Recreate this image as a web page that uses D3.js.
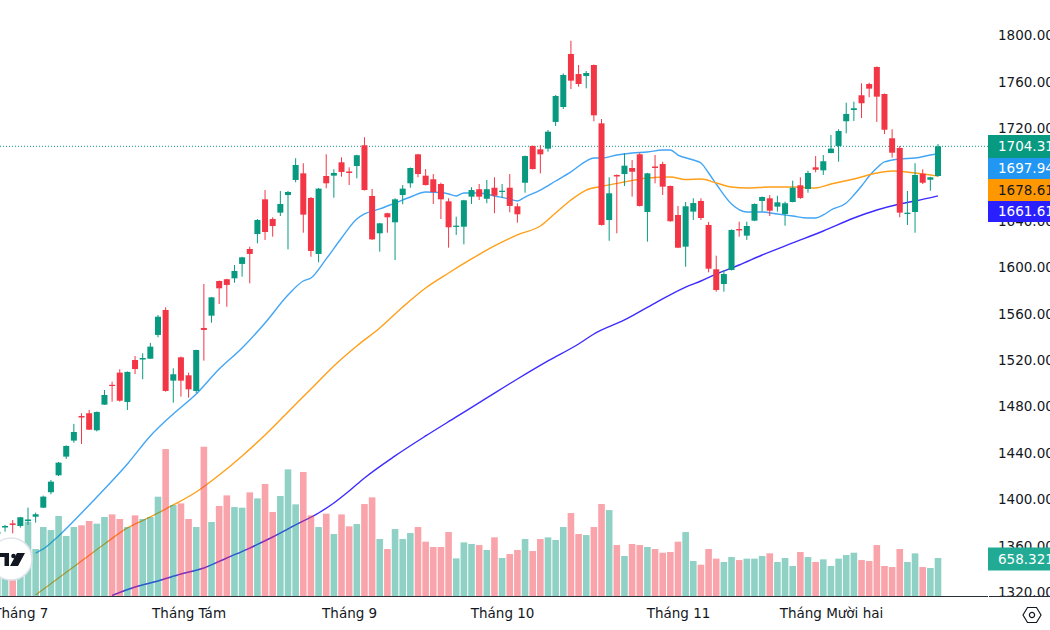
<!DOCTYPE html>
<html>
<head>
<meta charset="utf-8">
<script src="https://cdn.jsdelivr.net/npm/d3@7"></script>
<style>
  html, body { margin: 0; padding: 0; background: #fff; overflow: hidden; }
  text { font-family: "DejaVu Sans", sans-serif; }
</style>
</head>
<body>
<svg width="1050" height="630"></svg>
<script>
// daily candles, oldest first
var opens = [1370.1,1375.7,1379.2,1377,1381.3,1385,1392.8,1406.1,1420.7,1436.8,1450.6,1471.8,1474.2,1459.5,1481.6,1498.7,1509.2,1483.9,1520.1,1520.5,
  1521.2,1541.7,1563.2,1502.3,1522.4,1506.9,1493.4,1547.7,1558.3,1588.2,1589.7,1590.5,1602.9,1615.8,1628.7,1658.6,1641.6,1647.1,1662.3,1675.3,
  1681,1659.8,1611.5,1678.7,1679,1690.5,1682.6,1687.3,1705.2,1661.5,1629.3,1646.6,1638.8,1662.3,1672.4,1697.4,1679,1675.9,1671.8,1656.9,
  1634.8,1635,1660.9,1667.3,1659.1,1668.6,1665,1668.6,1652.6,1672.9,1704.6,1701.7,1702.3,1725.3,1738.2,1783.9,1766.6,1764.9,1774.4,1724.1,
  1640.8,1679.6,1680.4,1685.6,1697.4,1647.7,1686.9,1689.1,1670.1,1645.1,1617.8,1648,1657.2,1636.5,1598.3,1585.6,1597.7,1633,1627.3,1640.2,
  1657.2,1659.5,1652.3,1645.9,1656.3,1670.7,1667.5,1686.2,1683.6,1698.5,1704.6,1725.9,1735.6,1748.3,1758,1772.7,1749.4,1711.2,1702.9,1646,
  1647.7,1680.7,1675.5,1678.7];
var highs = [1372.7,1377.9,1382.2,1384.8,1392.8,1388.5,1403.2,1416.7,1432.2,1446.4,1465,1474.2,1477,1475.7,1494.2,1501.4,1512.1,1510.2,1523.5,1525.9,
  1534.8,1558.9,1565.5,1512.9,1523.1,1509.2,1528.9,1585.6,1574.4,1588.6,1590.1,1602,1609,1617.8,1641.6,1666.6,1643.1,1665.8,1665.8,1694,
  1689.7,1660.6,1668.4,1697.4,1684.5,1694.8,1686.2,1697,1712.1,1667.5,1638.3,1647,1659.5,1670.9,1686,1697.8,1684.7,1680.4,1672.9,1659.5,
  1643.6,1658.2,1669,1671.8,1675.3,1677.6,1671.8,1680.4,1655.2,1696.3,1705,1705.4,1718.4,1748.5,1767.2,1795.3,1774.4,1769.2,1774.8,1727.8,
  1677.6,1680,1698.3,1692.5,1698.8,1681.4,1696.8,1691,1670.5,1652.9,1656.3,1659.5,1659.5,1639.1,1610,1597.7,1632.6,1639.3,1639.3,1655,
  1661,1662.3,1661.7,1656.6,1674.7,1677.6,1683.3,1695.9,1696.8,1714.1,1719,1741.9,1742.8,1758.6,1759.1,1773.1,1749.8,1719,1704.6,1665.8,
  1689.7,1684.5,1678,1706.3];
var lows = [1369.3,1372.1,1370.7,1375.6,1377.9,1379.9,1392.5,1404.3,1420.1,1434.8,1448.8,1447.7,1459.8,1458.5,1481.3,1484.2,1484.2,1477,1508,1503.5,
  1520.9,1539.7,1492.8,1483.3,1488.5,1487.6,1491.7,1519.5,1552.3,1568.4,1566,1586.7,1591.9,1586.2,1620.7,1623.6,1626.4,1644.2,1615.5,1673.3,
  1629.8,1609.1,1604.3,1668.1,1660,1678.1,1670.9,1676.7,1666.2,1623.6,1613.5,1629.8,1606.3,1654.3,1668.6,1677.6,1670.5,1654.6,1641.6,1616.9,
  1627.9,1619.8,1654.6,1658,1655.2,1646.6,1660,1647.4,1638.5,1664.3,1684.3,1681,1699.7,1721.8,1736.5,1753.7,1755.7,1754.3,1725.9,1636,
  1622.9,1629.3,1670.1,1660.9,1652.4,1622.1,1672.4,1662.3,1639.3,1616.5,1600.5,1640.8,1640.8,1595.7,1579,1579,1597.3,1626.4,1623.6,1639.8,
  1648,1644.2,1648,1635.9,1656,1658.9,1664.3,1681.9,1679.6,1698.3,1691,1715.5,1726.1,1728.7,1746.6,1725.3,1714.9,1694.5,1643.1,1636.5,
  1629.8,1671.8,1666,1678];
var closes = [1371.9,1377,1377.9,1384.5,1382.6,1387.1,1402.3,1415.2,1431.6,1446,1458,1470.5,1460,1475.3,1489.9,1497.7,1485,1509.8,1512.3,1521.8,
  1531.6,1557.4,1493.4,1507.8,1502.3,1494.8,1528.7,1546,1574.1,1581.9,1584.8,1596.8,1608.6,1611.5,1640.8,1630.4,1635.6,1654.6,1664.9,1688.2,
  1645.4,1614.1,1667.8,1672.4,1681.3,1682.2,1681.3,1696.6,1666.6,1624.1,1637.9,1643.1,1658.6,1667.8,1685.6,1680.4,1670.9,1664.9,1658.6,1634.5,
  1635.9,1657.8,1666.6,1660.9,1667.3,1661.7,1666,1652.9,1645.7,1695.9,1684.7,1697.4,1716.9,1747.7,1765.8,1760.9,1758,1767.5,1731,1636.5,
  1663.8,1678.3,1687.6,1682.4,1652.9,1681,1685.6,1669.5,1639.7,1616.9,1652.6,1655.4,1642.5,1598.8,1580.4,1594.2,1632.2,1631.8,1635.6,1654.6,
  1660.6,1648.8,1656,1655.2,1668.6,1659.8,1681.3,1684.1,1691.4,1702.3,1717.5,1732.2,1737.1,1741.4,1754,1747.1,1718.6,1698.8,1647.1,1647.1,
  1679.6,1672.9,1677.6,1704.31];
var volumes = [335,400,277,797,1287,814,1195,1143,1386,1039,1195,1224,1299,1253,1368,1414,1334,1195,1397,1334,
  1368,1720,2546,1576,1605,1334,1195,2586,1282,1559,1743,1541,1530,1795,1691,1940,1455,1732,2194,1588,
  2148,1397,1195,1426,1074,1414,1207,1247,1593,1709,987,814,1160,987,1091,1195,941,849,849,1108,
  652,929,901,883,797,1016,658,727,797,987,779,987,1016,970,1195,1437,1074,1056,1195,1593,
  1489,883,693,901,883,849,814,750,762,941,1108,606,543,814,647,589,675,623,647,647,
  693,739,589,658,520,762,675,589,635,520,647,710,750,623,606,883,520,502,814,589,
  739,502,485,658.321];

var blueIdx = [5,6,8,11,14,17,20,23,26,29,32,35,38,40,41,43,45,47,48,50,52,54,56,58,59,60,61,63,65,67,68,69,71,73,75,77,78,79,81,83,85,87,88,89,91,92,93,94,96,98,99,100,102,104,106,107,108,109,111,112,113,114,115,116,118,120,122,123];
var blueVals = [1353.7,1357.2,1368.4,1388.2,1408.9,1430.5,1454.6,1473.6,1490.8,1512.3,1530.5,1552,1576.1,1588.2,1590.8,1607.2,1625.3,1641.6,1646,1650.3,1655.4,1660.6,1664.9,1664.5,1663.2,1661.5,1664.1,1664.1,1661.5,1658.9,1657.2,1660.6,1666.6,1674.4,1682.2,1691.6,1694.2,1694.2,1696.8,1698.5,1699.4,1701.1,1701.1,1696.8,1692.5,1689.9,1681.3,1671.8,1654.6,1647.7,1647.7,1647.7,1645.9,1644.2,1642.5,1642.5,1645.1,1649.4,1655.4,1662.3,1670.1,1678.7,1685.6,1690.8,1693.4,1694.2,1696.8,1697.94];
var orangeIdx = [5,8,11,14,17,20,23,26,29,32,35,38,41,44,47,50,53,56,59,62,65,68,71,73,75,77,79,82,85,88,90,92,94,96,98,101,104,107,109,112,115,117,120,123];
var orangeVals = [1317.5,1332.2,1346.8,1361.5,1375.3,1384.8,1395.1,1406.3,1420.9,1437.4,1455.5,1475.3,1495.1,1515,1532.2,1547.7,1565.8,1582.2,1595.1,1607.2,1618.4,1627.9,1635.6,1646.8,1658,1666.6,1669.7,1673.5,1677,1677.9,1675.7,1676.1,1672.7,1669.2,1668.4,1669.2,1669.2,1668.4,1671.8,1676.1,1681.3,1683,1681.3,1678.61];
var purpleIdx = [15,18,21,24,27,30,33,36,39,42,44,46,48,52,56,60,64,68,72,76,78,82,86,90,92,94,97,100,104,108,112,115,118,120,123];
var purpleVals = [1317.1,1324.4,1329.6,1335.6,1340.8,1349.4,1358,1367.5,1377.9,1388.2,1396.8,1407.2,1418.4,1437.4,1454.6,1471,1487.4,1503.7,1519.3,1533.9,1542.5,1554.6,1569.2,1583,1588.2,1594.2,1602,1610.6,1621,1631.3,1642.5,1649.4,1654.6,1657.2,1661.61];

var priceTicks = d3.range(1320, 1801, 40);
var monthTicks = [3,25,46,66,89,109];
var monthLabels = ['Tháng 7','Tháng Tám','Tháng 9','Tháng 10','Tháng 11','Tháng Mười hai'];
var tagLabels = [
  {label:'1704.31', value:1704.31, fill:'#089981', color:'#fff'},
  {label:'1697.94', value:1697.94, fill:'#2196f3', color:'#fff'},
  {label:'1678.61', value:1678.61, fill:'#ff9800', color:'#131722'},
  {label:'1661.61', value:1661.61, fill:'#2a1fff', color:'#fff'}
];

var UP = '#089981', DOWN = '#f23645';

var svg = d3.select('svg');
var xScale = d3.scaleLinear().domain([0, 123]).range([-2.6, 938]);
var yScale = d3.scaleLinear().domain([1320, 1800]).range([592.1, 35.3]);
var volScale = d3.scaleLinear().domain([0, 658.321]).range([596, 558]);

function isUp(i) { return closes[i] >= opens[i]; }

svg.append('defs').append('clipPath').attr('id', 'pane')
  .append('rect').attr('x', 0).attr('y', 0).attr('width', 988).attr('height', 596);
var pane = svg.append('g').attr('clip-path', 'url(#pane)');

// last price dotted line
pane.append('line')
  .attr('x1', 0).attr('x2', 988)
  .attr('y1', yScale(1704.31)).attr('y2', yScale(1704.31))
  .attr('stroke', UP).attr('stroke-width', 1).attr('stroke-dasharray', '1,2');

// moving averages sit under the volume bars
var lineFunc = d3.line()
  .curve(d3.curveMonotoneX)
  .x(function(d) { return xScale(d[0]); })
  .y(function(d) { return yScale(d[1]); });

[[blueIdx, blueVals, '#42a5f5'], [orangeIdx, orangeVals, '#ff9f1a'], [purpleIdx, purpleVals, '#3d2bff']].forEach(function(s) {
  pane.append('path')
    .attr('d', lineFunc(d3.zip(s[0], s[1])))
    .attr('fill', 'none')
    .attr('stroke', s[2])
    .attr('stroke-width', 1.4);
});

// volume
pane.selectAll('.vol').data(volumes).enter().append('rect')
  .attr('class', 'vol')
  .attr('x', function(d, i) { return xScale(i) - 3.3; })
  .attr('width', 6.6)
  .attr('y', function(d) { return volScale(d); })
  .attr('height', function(d) { return volScale(0) - volScale(d); })
  .attr('fill', function(d, i) { return isUp(i) ? UP : DOWN; })
  .attr('fill-opacity', 0.45);

// candles
var candles = pane.selectAll('.candle').data(opens).enter().append('g').attr('class', 'candle');
candles.append('line')
  .attr('x1', function(d, i) { return xScale(i); })
  .attr('x2', function(d, i) { return xScale(i); })
  .attr('y1', function(d, i) { return yScale(highs[i]); })
  .attr('y2', function(d, i) { return yScale(lows[i]); })
  .attr('stroke', function(d, i) { return isUp(i) ? UP : DOWN; })
  .attr('stroke-width', 1);
candles.append('rect')
  .attr('x', function(d, i) { return xScale(i) - 3; })
  .attr('width', 6)
  .attr('y', function(d, i) { return yScale(Math.max(opens[i], closes[i])); })
  .attr('height', function(d, i) { return Math.max(1.2, Math.abs(yScale(opens[i]) - yScale(closes[i]))); })
  .attr('fill', function(d, i) { return isUp(i) ? UP : DOWN; });

// price axis
var yAxis = svg.append('g')
  .attr('transform', 'translate(998,0)')
  .call(d3.axisRight(yScale).tickValues(priceTicks).tickFormat(d3.format('.2f')).tickSize(0).tickPadding(0));
yAxis.select('.domain').remove();
yAxis.selectAll('text').attr('font-size', 13.5).attr('fill', '#131722').style('font-family', '"DejaVu Sans", sans-serif');

// time axis
svg.append('line').attr('x1', 0).attr('x2', 1050).attr('y1', 596.5).attr('y2', 596.5).attr('stroke', '#2a2e39').attr('stroke-width', 1);
svg.append('line').attr('x1', 988).attr('x2', 989).attr('y1', 596.5).attr('y2', 596.5).attr('stroke', '#fff').attr('stroke-width', 1);
var xAxis = svg.append('g')
  .attr('transform', 'translate(0,596)')
  .call(d3.axisBottom(xScale).tickValues(monthTicks).tickFormat(function(d, i) { return monthLabels[i]; }).tickSize(0).tickPadding(12));
xAxis.select('.domain').remove();
xAxis.selectAll('text').attr('font-size', 13.5).attr('fill', '#131722').style('font-family', '"DejaVu Sans", sans-serif');

// value tags on the price axis
var tagTops = [135, 158, 179, 201];
var tagHeights = [23, 21, 22, 21];
tagLabels.forEach(function(t, i) {
  svg.append('rect').attr('x', 988).attr('y', tagTops[i]).attr('width', 62).attr('height', tagHeights[i]).attr('fill', t.fill);
  svg.append('text').attr('x', 998).attr('y', tagTops[i] + tagHeights[i] / 2).attr('dy', '0.36em')
    .attr('font-size', 13.5).attr('fill', t.color).text(t.label);
});
svg.append('rect').attr('x', 988).attr('y', 547.5).attr('width', 62).attr('height', 23).attr('fill', '#22ab94');
svg.append('text').attr('x', 998).attr('y', 559).attr('dy', '0.36em').attr('font-size', 13.5).attr('fill', '#fff').text('658.321');

// settings hexagon
var hex = svg.append('g').attr('transform', 'translate(1032,615)').attr('fill', 'none').attr('stroke', '#131722').attr('stroke-width', 1.2);
hex.append('path').attr('d', 'M-9,0L-4.5,-7.5L4.5,-7.5L9,0L4.5,7.5L-4.5,7.5Z');
hex.append('circle').attr('r', 2.6);

// watermark
var logo = svg.append('g').attr('transform', 'translate(11,559)');
logo.append('circle').attr('r', 21).attr('fill', '#fff').attr('stroke', '#e0e3eb').attr('stroke-width', 1.5);
logo.append('path').attr('d', 'M-13,-6H-2V7H-6.5V-2H-13Z M6,-6H14L7,7H-1Z').attr('fill', '#131722');
logo.append('circle').attr('cx', 2.5).attr('cy', -3).attr('r', 2.3).attr('fill', '#131722');
</script>
</body>
</html>
